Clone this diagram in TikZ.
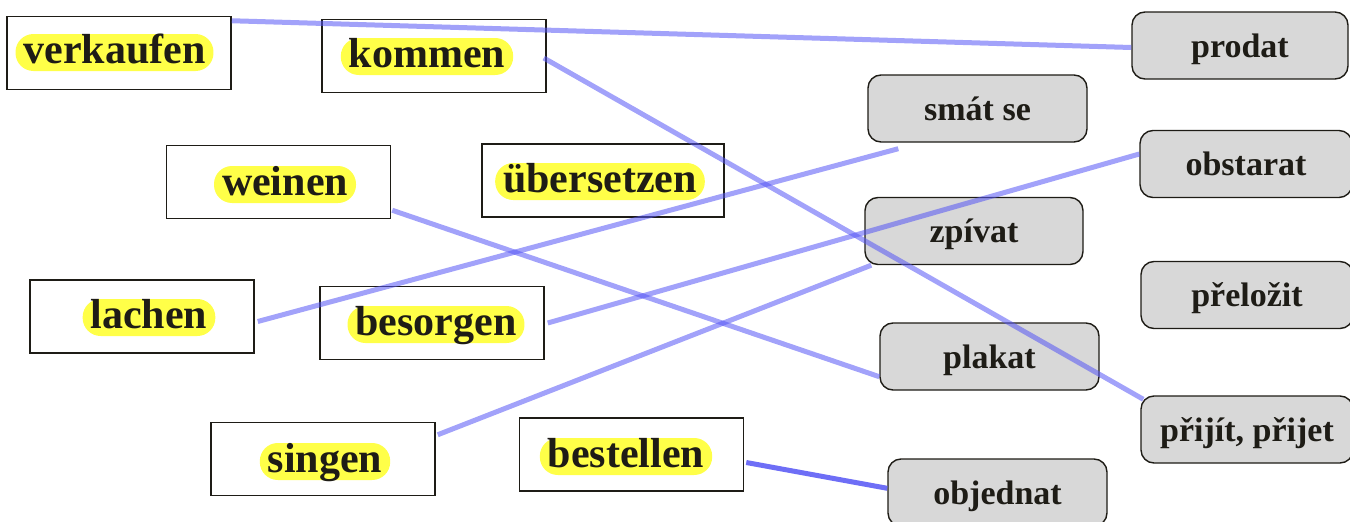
\documentclass[tikz,border=0pt]{standalone}
\usepackage{fontspec}
\setmainfont{Liberation Serif}
\usetikzlibrary{calc}
\definecolor{boxgray}{RGB}{216,216,216}
\definecolor{hlyellow}{RGB}{255,255,72}
\definecolor{inkdark}{RGB}{30,28,22}
\definecolor{linkblue}{RGB}{85,85,245}
\tikzset{
  lbox/.style={draw=inkdark, line width=1.5pt, fill=white, minimum width=224pt, minimum height=73pt, inner sep=0pt},
  pill/.style={fill=hlyellow, rounded corners=18pt, inner xsep=8pt, inner ysep=0pt,
    text height=29pt, text depth=8pt, text=inkdark,
    font=\fontsize{42}{42}\selectfont\bfseries},
  rbox/.style={draw=inkdark, line width=1.4pt, fill=boxgray, rounded corners=13pt,
    minimum width=218pt, minimum height=67pt, inner sep=0pt,
    text height=23pt, text depth=0pt, text=inkdark,
    font=\fontsize{34}{34}\selectfont\bfseries},
  link/.style={draw=linkblue, line width=5pt, draw opacity=0.55},
  darklink/.style={draw=linkblue, line width=5pt, draw opacity=0.85}
}
\begin{document}
\begin{tikzpicture}[x=1pt,y=-1pt]
\useasboundingbox (0,0) rectangle (1350,522);
% left boxes
\node[lbox] (verkaufen) at (119,53) {};
\node[lbox] (kommen) at (434,56) {};
\node[lbox] (weinen) at (278.5,182) {};
\node[lbox, minimum width=242pt] (uebersetzen) at (603,180.5) {};
\node[lbox] (lachen) at (142,316.5) {};
\node[lbox] (besorgen) at (432,323) {};
\node[lbox] (singen) at (323,459) {};
\node[lbox] (bestellen) at (631.5,454.5) {};
% highlighted words
\node[pill] (tverkaufen) at (114.5,52.5) {verkaufen};
\node[pill] (tkommen) at (427,56.5) {kommen};
\node[pill] (tweinen) at (285,184.5) {weinen};
\node[pill] (tuebersetzen) at (600,181.5) {übersetzen};
\node[pill] (tlachen) at (149,317.5) {lachen};
\node[pill] (tbesorgen) at (436,324.5) {besorgen};
\node[pill] (tsingen) at (325,461.5) {singen};
\node[pill] (tbestellen) at (626,456.5) {bestellen};
% right boxes
\node[rbox, minimum width=216pt] (prodat) at (1240,45.5) {prodat};
\node[rbox, minimum width=219pt] (smat) at (977.5,108.5) {smát se};
\node[rbox, minimum width=212pt] (obstarat) at (1246,164) {obstarat};
\node[rbox] (zpivat) at (974,231) {zpívat};
\node[rbox, minimum width=212pt] (prelozit) at (1247,295) {přeložit};
\node[rbox, minimum width=219pt] (plakat) at (989.5,356.5) {plakat};
\node[rbox, minimum width=212pt] (prijit) at (1247,429.5) {přijít, přijet};
\node[rbox, minimum width=219pt] (objednat) at (997.5,492.5) {objednat};
% free end below "smat se"
\coordinate (smatend) at ($(smat.south west)+(31,6)$);
% connectors
\draw[link] ($(verkaufen.north east)+(0,5)$) -- ($(prodat.west)+(0,2)$);
\draw[link] ($(kommen.east)+(-3,2)$) -- ($(prijit.north west)+(3,4)$);
\draw[link] ($(lachen.east)+(3,5)$) -- (smatend);
\draw[link] ($(besorgen.east)+(3,0)$) -- ($(obstarat.west)+(0,-10)$);
\draw[link] ($(weinen.south east)+(1,-9)$) -- ($(plakat.south west)+(0,-14)$);
\draw[link] ($(singen.north east)+(2,13)$) -- ($(zpivat.south west)+(7,0)$);
\draw[darklink] ($(bestellen.east)+(2,8)$) -- ($(objednat.north west)+(0,30)$);
\end{tikzpicture}
\end{document}
